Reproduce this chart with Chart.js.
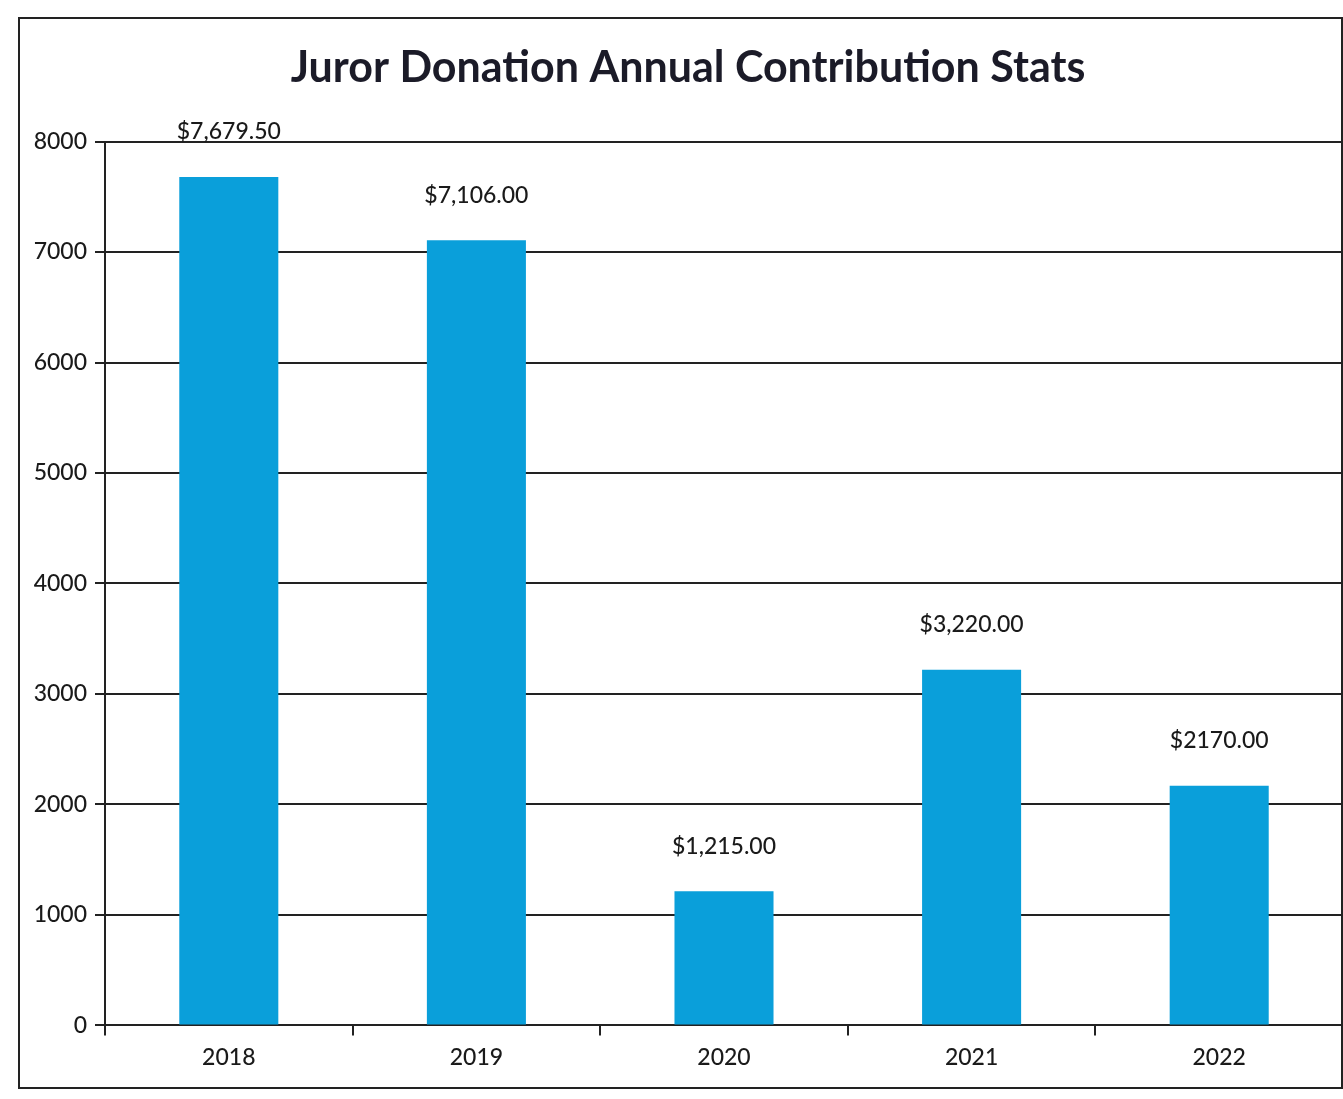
<!DOCTYPE html>
<html>
<head>
<meta charset="utf-8">
<script src="https://cdn.jsdelivr.net/npm/chart.js@4.4.1/dist/chart.umd.min.js"></script>
<style>
  html, body { margin: 0; padding: 0; background: #fff; }
  #wrap { position: relative; width: 1343px; height: 1099px; overflow: hidden; }
  #frame { position: absolute; left: 18px; top: 17px; width: 1321px; height: 1068px; border: 2px solid #222; }
  #c { position: absolute; left: 0; top: 0; }
</style>
</head>
<body>
<div id="wrap">
  <div id="frame"></div>
  <canvas id="c" width="1343" height="1099"></canvas>
</div>
<script>
const anos = ["2018", "2019", "2020", "2021", "2022"];
const valores = [7679.5, 7106, 1215, 3220, 2170];
const rotulos = ["$7,679.50", "$7,106.00", "$1,215.00", "$3,220.00", "$2170.00"];
const titulo = "Juror Donation Annual Contribution Stats";

const fonte = "Lato, 'Open Sans', sans-serif";

// rótulos em cima das barras
const rotulosPlugin = {
  id: "rotulos",
  afterDatasetsDraw(chart) {
    const ctx = chart.ctx;
    const meta = chart.getDatasetMeta(0);
    ctx.save();
    ctx.font = "500 23px " + fonte;
    ctx.fillStyle = "#1a1a1a";
    ctx.textAlign = "center";
    ctx.textBaseline = "middle";
    meta.data.forEach((bar, i) => {
      ctx.fillText(rotulos[i], bar.x, bar.y - 45);
    });
    ctx.restore();
  }
};

new Chart(document.getElementById("c").getContext("2d"), {
  type: "bar",
  data: {
    labels: anos,
    datasets: [{
      data: valores,
      backgroundColor: "#0a9fda",
      barPercentage: 0.4,
      categoryPercentage: 1
    }]
  },
  options: {
    responsive: false,
    animation: false,
    layout: { padding: { left: 33, right: 0, top: 0, bottom: 20 } },
    plugins: {
      legend: { display: false },
      tooltip: { enabled: false },
      title: {
        display: true,
        text: titulo,
        color: "#1b1b28",
        font: { family: fonte, size: 43, weight: "bold" },
        padding: { top: 42, bottom: 48 }
      }
    },
    scales: {
      x: {
        border: { color: "#222", width: 2 },
        grid: { drawOnChartArea: false, drawTicks: true, tickLength: 10, color: "#222", lineWidth: 2 },
        ticks: { color: "#1a1a1a", font: { family: fonte, size: 23, weight: "500" }, padding: 8 }
      },
      y: {
        min: 0,
        max: 8000,
        border: { color: "#222", width: 2 },
        grid: { color: "#222", lineWidth: 2, tickLength: 10 },
        ticks: {
          stepSize: 1000,
          color: "#1a1a1a",
          font: { family: fonte, size: 23, weight: "500" },
          padding: 8,
          callback: v => String(v)
        },
        afterFit(scale) { scale.width = 72; }
      }
    }
  },
  plugins: [rotulosPlugin]
});
</script>
</body>
</html>
